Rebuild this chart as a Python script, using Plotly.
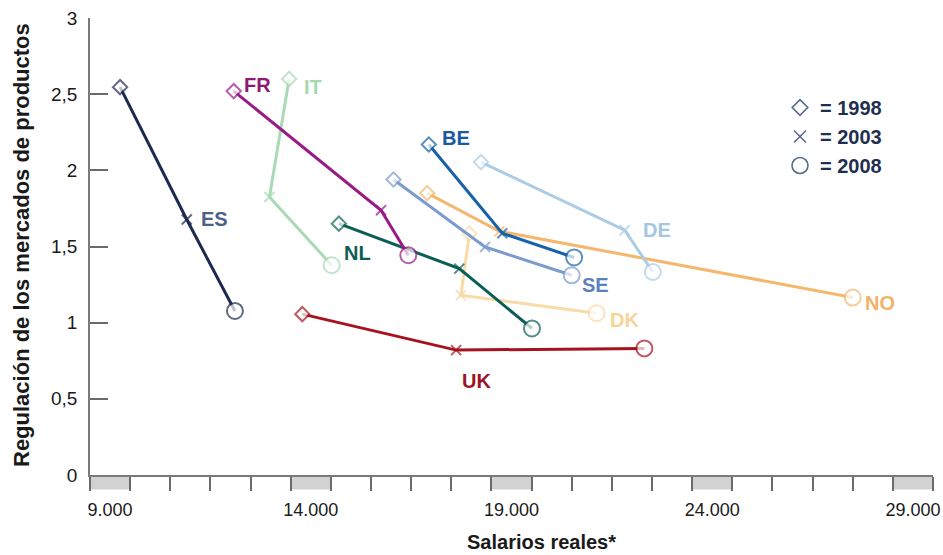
import plotly.graph_objects as go

# ---------------- data ----------------
countries = ["NO", "DK", "DE", "IT", "SE", "BE", "NL", "FR", "UK", "ES"]
wage_1998 = [16900, 17950, 18240, 13460, 16060, 16940, 14700, 12080, 13790, 9250]
wage_2003 = [18700, 17740, 21820, 12970, 18340, 18770, 17700, 15750, 17620, 10910]
wage_2008 = [27500, 21120, 22520, 14520, 20500, 20560, 19510, 16430, 22310, 12110]
reg_1998 = [1.85, 1.585, 2.054, 2.60, 1.94, 2.17, 1.65, 2.52, 1.056, 2.546]
reg_2003 = [1.60, 1.18, 1.607, 1.825, 1.497, 1.587, 1.355, 1.738, 0.82, 1.677]
reg_2008 = [1.165, 1.062, 1.333, 1.377, 1.311, 1.428, 0.962, 1.443, 0.831, 1.077]

years = ["1998", "2003", "2008"]
y_tickvals = [0, 0.5, 1, 1.5, 2, 2.5, 3]
y_ticktext = ["0", "0,5", "1", "1,5", "2", "2,5", "3"]
x_tickvals = [9000, 14000, 19000, 24000, 29000]
x_ticktext = ["9.000", "14.000", "19.000", "24.000", "29.000"]

# ---------------- style ----------------
line_colors = {
    "NO": "#f3b86e", "DK": "#f8dba6", "DE": "#abcbe6", "IT": "#a9dab5",
    "SE": "#7b9ad0", "BE": "#1661aa", "NL": "#0b5e56", "FR": "#981c86",
    "UK": "#a6121f", "ES": "#1b2a4e",
}
label_colors = {
    "NO": "#f2b26a", "DK": "#f6d49a", "DE": "#a3c6e2", "IT": "#a6d8b2",
    "SE": "#5b82c0", "BE": "#1a5a9e", "NL": "#0d5e55", "FR": "#8e1a75",
    "UK": "#9a1525", "ES": "#4c6088",
}
# label placement (data coords of left edge / vertical middle)
label_pos = {
    "ES": (11217, 1.682), "FR": (12296, 2.557), "IT": (13785, 2.544),
    "NL": (14765, 1.459), "BE": (17210, 2.210), "DE": (22229, 1.607),
    "SE": (20698, 1.246), "DK": (21407, 1.016), "NO": (27760, 1.131),
    "UK": (17711, 0.616),
}
FONT = "Liberation Sans, Arial, sans-serif"
symbols = ["diamond", "x-thin", "circle"]
sizes = [11, 10, 16]

L, R, T, B = 90, 10, 18, 80
PW, PH = 943 - L - R, 555 - T - B

fig = go.Figure()

for i, c in enumerate(countries):
    col = line_colors[c]
    fig.add_trace(go.Scatter(
        x=[wage_1998[i], wage_2003[i], wage_2008[i]],
        y=[reg_1998[i], reg_2003[i], reg_2008[i]],
        mode="lines+markers",
        line=dict(color=col, width=3),
        marker=dict(symbol=symbols, size=sizes,
                    color=["white", col, "white"],
                    line=dict(color=col, width=2)),
        showlegend=False, name=c, hoverinfo="x+y+name",
    ))

# legend entries
leg_col = "#56698c"
for yr, sym, sz in zip(years, symbols, [12, 12, 16]):
    fig.add_trace(go.Scatter(
        x=[None], y=[None], mode="markers", name="= " + yr,
        marker=dict(symbol=sym, size=sz,
                    color=leg_col if sym == "x-thin" else "white",
                    line=dict(color=leg_col, width=1.6)),
        showlegend=True,
    ))

annotations = []
for c in countries:
    x, y = label_pos[c]
    annotations.append(dict(
        x=x, y=y, xref="x", yref="y", text="<b>" + c + "</b>",
        showarrow=False, xanchor="left", yanchor="middle",
        font=dict(family=FONT, size=20, color=label_colors[c]),
    ))
annotations.append(dict(
    x=(541 - L) / PW, y=-(542 - (T + PH)) / PH, xref="paper", yref="paper",
    text="<b>Salarios reales*</b>", showarrow=False,
    xanchor="center", yanchor="middle",
    font=dict(family=FONT, size=20, color="#1a1a1a"),
))
annotations.append(dict(
    x=-(L - 21) / PW, y=(T + PH - 245) / PH, xref="paper", yref="paper",
    text="<b>Regulación de los mercados de productos</b>", showarrow=False,
    textangle=-90, xanchor="center", yanchor="middle",
    font=dict(family=FONT, size=22, color="#1a1a1a"),
))

# gray blocks under labelled ticks
shapes = []
for v in x_tickvals:
    shapes.append(dict(
        type="rect", xref="x", yref="paper",
        x0=v - 500, x1=v + 500, y0=-14.5 / PH, y1=0,
        fillcolor="#d2d2d2", line=dict(width=0), layer="below",
    ))

fig.update_layout(
    width=943, height=555,
    margin=dict(l=L, r=R, t=T, b=B, autoexpand=False),
    paper_bgcolor="white", plot_bgcolor="white",
    font=dict(family=FONT, size=18, color="#1a1a1a"),
    showlegend=True,
    legend=dict(x=(780 - L) / PW, y=(T + PH - 88) / PH,
                xanchor="left", yanchor="top",
                font=dict(family=FONT, size=20, color="#1f2f4f", weight="bold"),
                bgcolor="rgba(0,0,0,0)", tracegroupgap=0,
                itemsizing="trace"),
    annotations=annotations,
    shapes=shapes,
    xaxis=dict(
        range=[8500, 29500], showgrid=False, zeroline=False,
        showline=True, linecolor="#7a7a7a", linewidth=1.5,
        tickmode="array", tickvals=x_tickvals, ticktext=x_ticktext,
        ticks="", ticklabelstandoff=18, ticklabeloverflow="allow",
        tickfont=dict(family=FONT, size=18, color="#1a1a1a"),
        minor=dict(tick0=8500, dtick=1000, ticks="outside", ticklen=14,
                   tickwidth=1.5, tickcolor="#6a6a6a", showgrid=False),
    ),
    yaxis=dict(
        range=[0, 3], showgrid=False, zeroline=False,
        showline=True, linecolor="#7a7a7a", linewidth=1.5,
        tickmode="array", tickvals=y_tickvals, ticktext=y_ticktext,
        ticks="inside", ticklen=18, tickwidth=1.5, tickcolor="#6a6a6a",
        ticklabelstandoff=7,
        tickfont=dict(family=FONT, size=19, color="#1a1a1a"),
    ),
)

fig.write_html("out.html",
               config={"displayModeBar": False},
               post_script="document.body.style.margin='0px';"
                           "document.body.style.overflow='hidden';")
